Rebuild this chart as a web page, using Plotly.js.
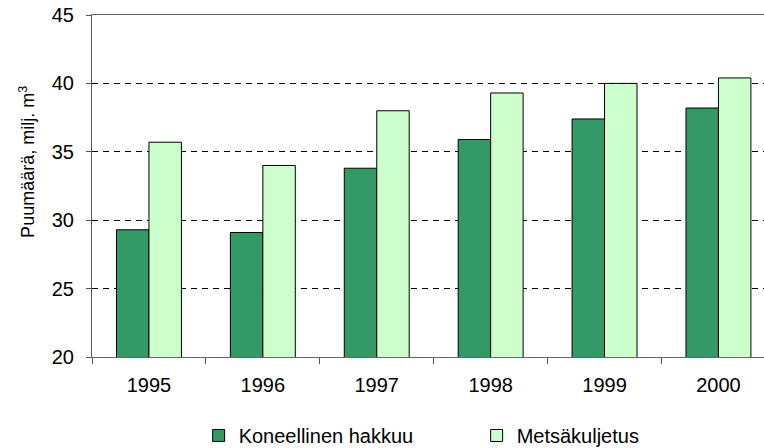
<!DOCTYPE html>
<html>
<head>
<meta charset="utf-8">
<script src="https://cdn.plot.ly/plotly-3.0.1.min.js"></script>
<style>html,body{margin:0;padding:0;background:#fff;}#chart{width:764px;height:448px;}</style>
</head>
<body>
<div id="chart"></div>
<script>
const years = ["1995", "1996", "1997", "1998", "1999", "2000"];
const koneellinenHakkuu = [29.3, 29.1, 33.8, 35.9, 37.4, 38.2];
const metsakuljetus = [35.7, 34.0, 38.0, 39.3, 40.0, 40.4];
const seriesNames = ["Koneellinen hakkuu", "Metsäkuljetus"];
const yTitle = "Puumäärä, milj. m<sup>3</sup>";

const font = "Liberation Sans, Arial, sans-serif";

const data = [
  {type: "bar", x: years, y: koneellinenHakkuu, name: seriesNames[0],
   marker: {color: "#339966", line: {color: "#000", width: 1}}},
  {type: "bar", x: years, y: metsakuljetus, name: seriesNames[1],
   marker: {color: "#CCFFCC", line: {color: "#000", width: 1}}}
];

const layout = {
  width: 764, height: 448,
  margin: {l: 92, r: 0, t: 15, b: 91},
  paper_bgcolor: "#fff", plot_bgcolor: "#fff",
  font: {family: font, size: 20, color: "#000"},
  barmode: "group", bargap: 0.43, bargroupgap: 0,
  showlegend: true,
  legend: {orientation: "h", xref: "container", yref: "container",
    x: 0.260, y: 0.028, xanchor: "left", yanchor: "middle",
    entrywidth: 233, entrywidthmode: "pixels",
    font: {family: font, size: 20, color: "#000"}, traceorder: "normal"},
  xaxis: {type: "category", range: [-0.5, 5.4],
    showline: true, linecolor: "#666", linewidth: 1, mirror: true,
    ticks: "outside", tickson: "boundaries", ticklen: 6, tickcolor: "#555",
    showgrid: false, zeroline: false, ticklabelstandoff: 10,
    tickfont: {family: font, size: 20, color: "#000"}},
  yaxis: {range: [20, 45], dtick: 5, tick0: 20,
    showline: true, linecolor: "#555", linewidth: 1,
    ticks: "outside", ticklen: 5, tickcolor: "#555",
    showgrid: true, gridcolor: "#000", griddash: "6px,5px", gridwidth: 1,
    zeroline: false, ticklabelstandoff: 8,
    tickfont: {family: font, size: 20, color: "#000"}},
  annotations: [{
    text: yTitle, textangle: -90, showarrow: false,
    xref: "paper", yref: "paper", x: -0.097, y: 0.57,
    xanchor: "center", yanchor: "middle",
    font: {family: font, size: 18, color: "#000"}
  }]
};

Plotly.newPlot("chart", data, layout, {displayModeBar: false, staticPlot: true});
</script>
</body>
</html>
